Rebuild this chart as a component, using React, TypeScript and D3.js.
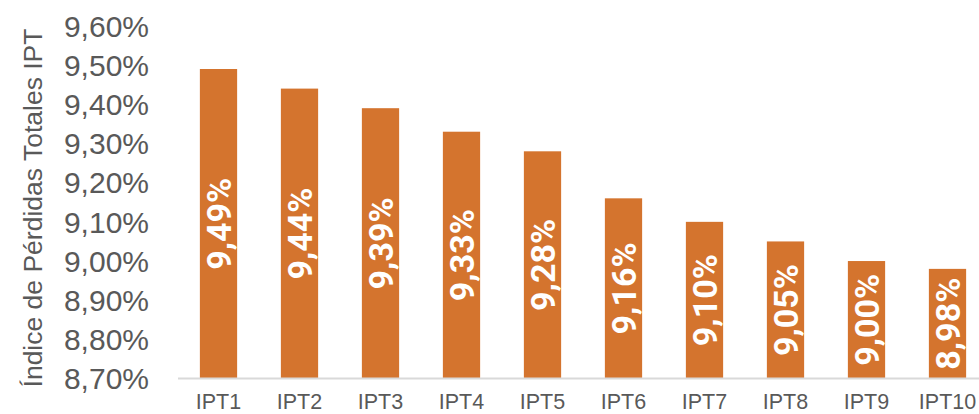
import { useRef, useEffect } from "react";
import * as d3 from "d3";

const categories = ["IPT1", "IPT2", "IPT3", "IPT4", "IPT5", "IPT6", "IPT7", "IPT8", "IPT9", "IPT10"];
const values = [9.49, 9.44, 9.39, 9.33, 9.28, 9.16, 9.1, 9.05, 9.0, 8.98];
const yTicks = [8.7, 8.8, 8.9, 9.0, 9.1, 9.2, 9.3, 9.4, 9.5, 9.6];
const yTitle = "Índice de Pérdidas Totales IPT";

const fmt = (v: number) => v.toFixed(2).replace(".", ",") + "%";

export default function App() {
  const svgRef = useRef<SVGSVGElement | null>(null);

  useEffect(() => {
    if (!svgRef.current) return;
    const svg = d3.select(svgRef.current);
    svg.selectAll("*").remove();

    const width = 979;
    const height = 414;
    const textColor = "#595959";
    const barColor = "#D4742E";

    const x = d3.scaleBand<string>().domain(categories).range([178, 988]).paddingInner(0.54).paddingOuter(0.27);
    const y = d3.scaleLinear().domain([8.7, 9.6]).range([378.6, 25.9]);

    const data = categories.map((c, i) => ({ cat: c, value: values[i] }));

    // bars
    svg
      .append("g")
      .selectAll("rect")
      .data(data)
      .join("rect")
      .attr("x", (d) => x(d.cat)!)
      .attr("y", (d) => y(d.value))
      .attr("width", x.bandwidth())
      .attr("height", (d) => y(8.7) - y(d.value))
      .attr("fill", barColor);

    // axis line
    svg
      .append("line")
      .attr("x1", 178)
      .attr("x2", width)
      .attr("y1", y(8.7))
      .attr("y2", y(8.7))
      .attr("stroke", "#D9D9D9")
      .attr("stroke-width", 2);

    // y tick labels
    svg
      .append("g")
      .selectAll("text")
      .data(yTicks)
      .join("text")
      .attr("x", 149)
      .attr("y", (d) => y(d))
      .attr("dy", "0.36em")
      .attr("text-anchor", "end")
      .attr("font-family", "Liberation Sans, Arial, sans-serif")
      .attr("font-size", 30)
      .attr("fill", textColor)
      .text((d) => fmt(d));

    // category labels
    svg
      .append("g")
      .selectAll("text")
      .data(categories)
      .join("text")
      .attr("x", (d) => x(d)! + x.bandwidth() / 2)
      .attr("y", 409)
      .attr("text-anchor", "middle")
      .attr("font-family", "Liberation Sans, Arial, sans-serif")
      .attr("font-size", 21.5)
      .attr("fill", textColor)
      .text((d) => d);

    // value labels, rotated inside bars
    svg
      .append("g")
      .selectAll("text")
      .data(data)
      .join("text")
      .attr("transform", (d) => {
        const cx = x(d.cat)! + x.bandwidth() / 2;
        const cy = (y(d.value) + y(8.7)) / 2;
        return `translate(${cx},${cy}) rotate(-90)`;
      })
      .attr("text-anchor", "middle")
      .attr("dy", "0.36em")
      .attr("font-family", "Roboto, sans-serif")
      .attr("font-weight", "bold")
      .attr("font-size", 34)
      .attr("fill", "#FFFFFF")
      .text((d) => fmt(d.value));

    // y axis title
    svg
      .append("text")
      .attr("transform", "translate(42,208) rotate(-90)")
      .attr("text-anchor", "middle")
      .attr("font-family", "Liberation Sans, Arial, sans-serif")
      .attr("font-size", 26.5)
      .attr("fill", textColor)
      .text(yTitle);

    svg.attr("width", width).attr("height", height);
  }, []);

  return (
    <svg
      ref={svgRef}
      width={979}
      height={414}
      style={{ position: "fixed", left: 0, top: 0, background: "#fff", display: "block" }}
    ></svg>
  );
}
